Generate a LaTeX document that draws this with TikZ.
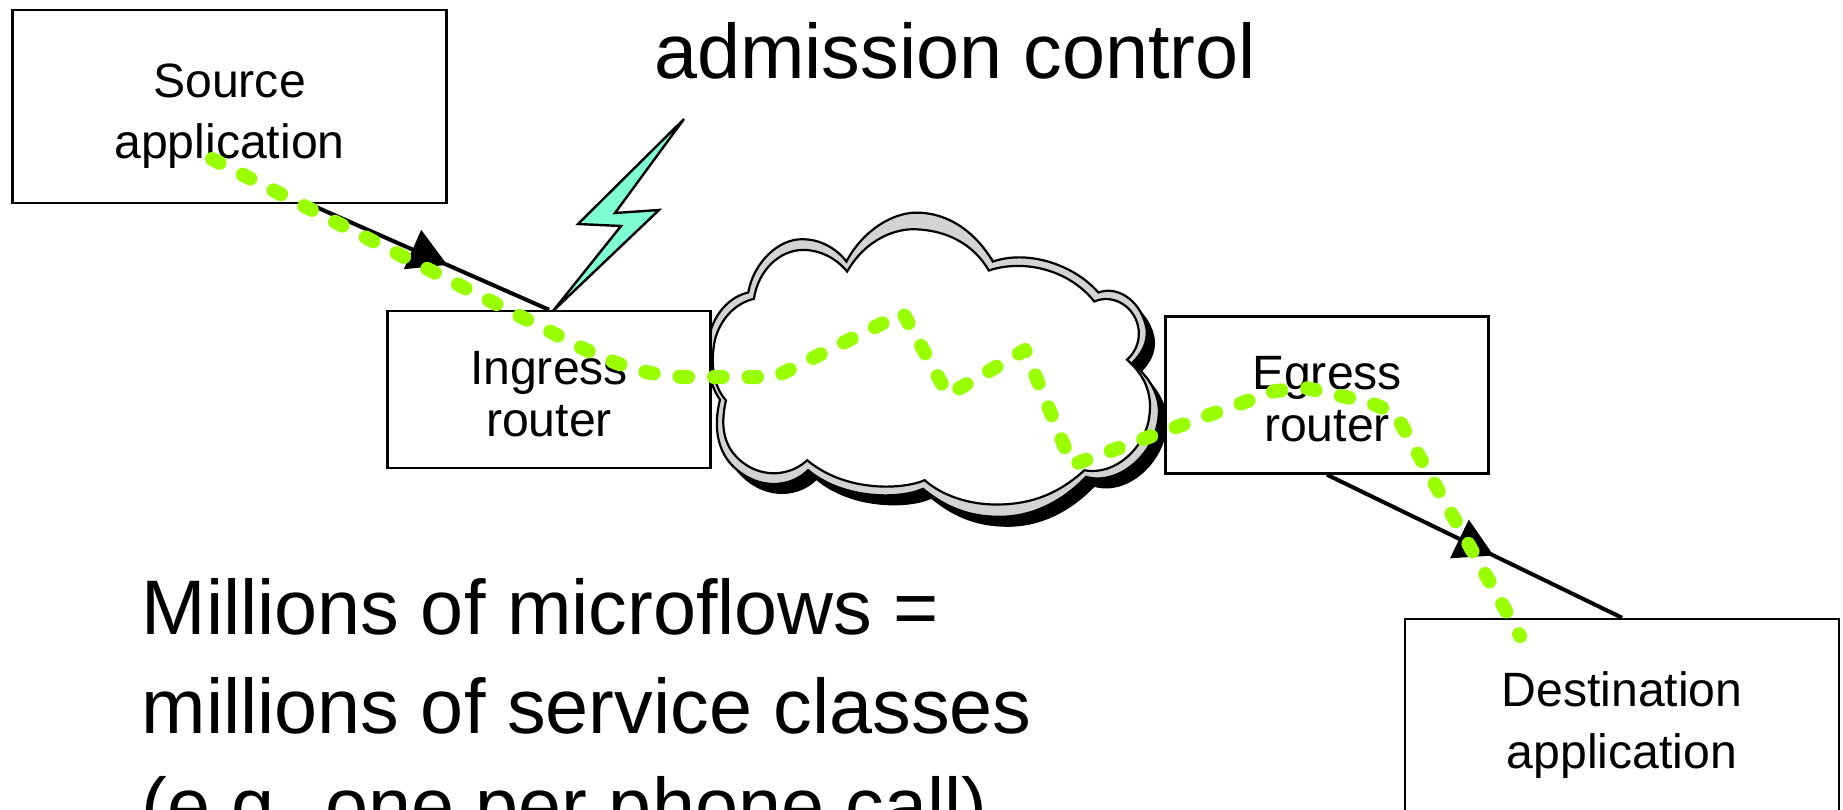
\documentclass[tikz,border=0pt]{standalone}
\usepackage{fontspec}
\setmainfont{Liberation Sans}
\usetikzlibrary{arrows.meta,decorations.markings}
\definecolor{flowgreen}{HTML}{99FF00}
\definecolor{boltaqua}{HTML}{7FFFD4}
\definecolor{cloudgray}{HTML}{D3D3D3}
\tikzset{
    hostbox/.style={draw,fill=white,line width=0.024cm,minimum width=4.34cm,minimum height=1.93cm,inner sep=0pt},
    routerbox/.style={draw,fill=white,line width=0.024cm,minimum width=3.23cm,minimum height=1.57cm,inner sep=0pt},
    hosttext/.style={inner sep=0pt,align=center,font=\fontsize{13.7}{17.4}\selectfont},
    routertext/.style={inner sep=0pt,align=center,font=\fontsize{13.7}{14.8}\selectfont},
    bigtext/.style={inner sep=0pt,align=left,font=\fontsize{22}{28.2}\selectfont},
    flowarrow/.style={line width=0.04cm,postaction={decorate,decoration={markings,mark=at position #1 with {\arrow{Triangle[length=0.38cm,width=0.42cm]}}}}},
    microflow/.style={draw=flowgreen,line width=0.14cm,line cap=round,line join=round,dash pattern=on 0.085cm off 0.26cm}
}
\def\cloudouter{(440,185) .. controls (490,90) and (580,38) .. (650,38) .. controls (750,38) and (830,100) .. (880,185)
    .. controls (980,150) and (1120,190) .. (1197,278)
    .. controls (1260,255) and (1330,310) .. (1342,390) .. controls (1346,430) and (1325,465) .. (1298,490)
    .. controls (1350,530) and (1385,590) .. (1378,650) .. controls (1370,760) and (1260,860) .. (1160,832)
    .. controls (1090,905) and (1000,952) .. (900,952) .. controls (810,952) and (740,925) .. (670,868)
    .. controls (600,900) and (430,900) .. (325,812)
    .. controls (270,865) and (180,870) .. (110,810) .. controls (50,760) and (40,680) .. (60,600)
    .. controls (25,550) and (15,480) .. (30,400) .. controls (45,340) and (90,290) .. (145,278)
    .. controls (160,190) and (235,115) .. (310,118) .. controls (360,118) and (410,145) .. (440,185) -- cycle}
\def\cloudinner{(442,215) .. controls (500,115) and (590,85) .. (650,88) .. controls (740,92) and (820,130) .. (868,212)
    .. controls (960,180) and (1100,200) .. (1185,305)
    .. controls (1240,280) and (1310,320) .. (1318,390) .. controls (1322,430) and (1305,460) .. (1283,480)
    .. controls (1335,525) and (1360,580) .. (1350,650) .. controls (1340,740) and (1250,830) .. (1155,812)
    .. controls (1080,880) and (1000,915) .. (890,915) .. controls (810,915) and (730,890) .. (675,842)
    .. controls (610,870) and (440,880) .. (322,782)
    .. controls (270,830) and (190,835) .. (130,790) .. controls (70,745) and (60,680) .. (78,602)
    .. controls (40,560) and (30,490) .. (45,420) .. controls (60,360) and (105,310) .. (162,297)
    .. controls (175,210) and (240,150) .. (310,150) .. controls (360,150) and (410,175) .. (442,215) -- cycle}
\begin{document}
\begin{tikzpicture}[x=0.01cm,y=-0.01cm]
    \useasboundingbox (0,0) rectangle (1843,809);
    \clip (0,0) rectangle (1843,809);
    \begin{scope}[shift={(700,200)},x=0.00333cm,y=-0.00333cm]
        \fill[black,shift={(25,30)}] \cloudouter;
        \draw[fill=cloudgray,line width=0.022cm] \cloudouter;
        \draw[fill=white,line width=0.022cm] \cloudinner;
    \end{scope}
    \node[hostbox] at (229.5,106.5) (source) {};
    \node[routerbox] at (549,389.5) (ingress) {};
    \node[routerbox] at (1327,395) (egress) {};
    \node[hostbox] at (1622,715.5) (destination) {};
    \node[hosttext] at (229.5,116) (sourcetext) {Source\\application};
    \node[routertext] at (549,394) (ingresstext) {Ingress\\router};
    \node[routertext] at (1327,399.5) (egresstext) {Egress\\router};
    \node[hosttext] at (1622,725) (destinationtext) {Destination\\application};
    \node at (955,50.5) (admission) {\fontsize{22}{28.2}\selectfont admission control};
    \node[bigtext,anchor=north west] at (141,577.5) (microflows) {Millions of microflows =\\millions of service classes\\(e.g. one per phone call)};
    \coordinate (sourceout) at (307,203);
    \coordinate (boltend) at (553,311);
    \draw[flowarrow=0.58] (sourceout) -- (ingress.north);
    \draw[flowarrow=0.565] (egress.south) -- (destination.north);
    \draw[fill=boltaqua,line width=0.024cm,line join=miter] (684,119) -- (578,224) -- (621,226) -- (boltend) -- (659,210) -- (615,213) -- cycle;
    \draw[microflow] (212,159) -- (553,333) .. controls (600,358) and (640,377) .. (690,377) -- (775,377) -- (903,313) -- (948,395) -- (1025,350) -- (1072,465) -- (1275,391) -- (1306,388) -- (1368,402) -- (1395,413) -- (1520,636);
\end{tikzpicture}
\end{document}
